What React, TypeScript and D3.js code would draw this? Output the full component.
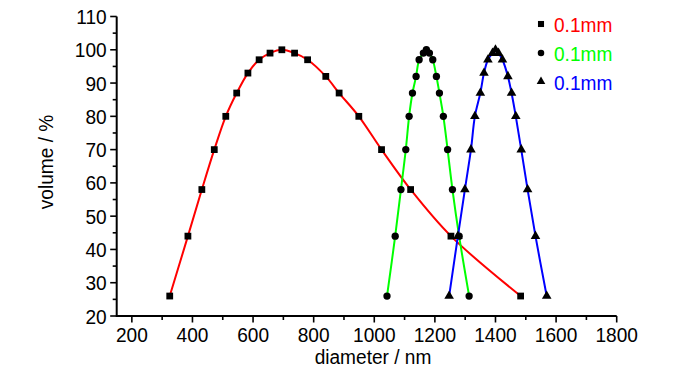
import React, { useEffect, useRef } from 'react';
import * as d3 from 'd3';

// diameter (nm) / volume (%)
const redX = [325, 385, 431, 472, 510, 546, 583, 620, 656, 695, 737, 780, 840, 884, 949, 1024, 1120, 1253, 1483];
const redY = [26, 44, 58, 70, 80, 87, 93, 97, 99, 100, 99, 97, 92, 87, 80, 70, 58, 44, 26];
const greenX = [1042, 1069, 1088, 1104, 1115, 1126, 1138, 1148, 1162, 1172, 1182, 1193, 1205, 1215, 1228, 1242, 1258, 1280, 1313];
const greenY = [26, 44, 58, 70, 80, 87, 92, 97, 99, 100, 99, 97, 92, 87, 80, 70, 58, 44, 26];
const blueX = [1247, 1276, 1299, 1319, 1332, 1350, 1362, 1375, 1390, 1400, 1410, 1423, 1441, 1453, 1467, 1485, 1506, 1532, 1569];
const blueY = [26, 44, 58, 70, 80, 87, 93, 97, 99, 100, 99, 97, 92, 87, 80, 70, 58, 44, 26];

const legendLabels = ['0.1mm', '0.1mm', '0.1mm'];
const seriesColors = ['#ff0000', '#00ff00', '#0000ff'];
const xTicks = [200, 400, 600, 800, 1000, 1200, 1400, 1600, 1800];
const yTicks = [20, 30, 40, 50, 60, 70, 80, 90, 100, 110];

const W = 700;
const H = 374;
const FONT = 'Arial, "Liberation Sans", sans-serif';
// text in the original is a bit taller than it is wide
const SQUEEZE = 0.91;

type Pt = [number, number];

const App: React.FC = () => {
  const svgRef = useRef<SVGSVGElement | null>(null);

  useEffect(() => {
    if (!svgRef.current) return;
    const svg = d3.select(svgRef.current);
    svg.selectAll('*').remove();

    const x = d3.scaleLinear().domain([150, 1800]).range([116.7, 616.7]);
    const y = d3.scaleLinear().domain([20, 110]).range([316, 16.5]);

    const label = (tx: number, ty: number, txt: string, size: number, anchor: string, fill = '#000', rot = 0) =>
      svg.append('text')
        .attr('transform', `translate(${tx},${ty}) rotate(${rot}) scale(${SQUEEZE},1)`)
        .attr('text-anchor', anchor)
        .attr('fill', fill)
        .style('font-family', FONT).style('font-size', `${size}px`)
        .text(txt);

    // axes - left and bottom only, ticks outward
    const xMinor = d3.range(200, 1801, 100);
    const yMinor = d3.range(20, 111, 5);

    const axes = svg.append('g').attr('stroke', '#000');
    axes.append('line')
      .attr('x1', x(150)).attr('x2', x(1800))
      .attr('y1', y(20)).attr('y2', y(20))
      .attr('stroke-width', 2);
    axes.append('line')
      .attr('x1', x(150)).attr('x2', x(150))
      .attr('y1', y(20) + 1).attr('y2', y(110))
      .attr('stroke-width', 2);

    axes.selectAll('.xt').data(xMinor).enter().append('line')
      .attr('x1', d => x(d)).attr('x2', d => x(d))
      .attr('y1', y(20)).attr('y2', d => y(20) + (d % 200 === 0 ? 6.5 : 4))
      .attr('stroke-width', 1.6);
    axes.selectAll('.yt').data(yMinor).enter().append('line')
      .attr('y1', d => y(d)).attr('y2', d => y(d))
      .attr('x1', x(150)).attr('x2', d => x(150) - (d % 10 === 0 ? 6.5 : 4))
      .attr('stroke-width', 1.6);

    xTicks.forEach(t => label(x(t), y(20) + 26, String(t), 21, 'middle'));
    yTicks.forEach(t => label(x(150) - 10, y(t) + 7.5, String(t), 21, 'end'));

    label(373, 364, 'diameter / nm', 21, 'middle');
    label(53, 162, 'volume / %', 21, 'middle', '#000', -90);

    const series: { pts: Pt[]; color: string; shape: d3.SymbolType; size: number }[] = [
      { pts: redX.map((v, i) => [v, redY[i]] as Pt), color: seriesColors[0], shape: d3.symbolSquare, size: 46 },
      { pts: greenX.map((v, i) => [v, greenY[i]] as Pt), color: seriesColors[1], shape: d3.symbolCircle, size: 42 },
      { pts: blueX.map((v, i) => [v, blueY[i]] as Pt), color: seriesColors[2], shape: d3.symbolTriangle, size: 40 },
    ];

    const line = d3.line<Pt>()
      .x(d => x(d[0])).y(d => y(d[1]))
      .curve(d3.curveCatmullRom.alpha(0.5));

    series.forEach(s => {
      svg.append('path')
        .attr('d', line(s.pts))
        .attr('fill', 'none')
        .attr('stroke', s.color)
        .attr('stroke-width', 2);
      svg.selectAll(null).data(s.pts).enter().append('path')
        .attr('d', d3.symbol().type(s.shape).size(s.size)())
        .attr('transform', d => `translate(${x(d[0])},${y(d[1])})`)
        .attr('fill', '#000');
    });

    // legend top right
    const legendY = [24, 53, 81.5];
    series.forEach((s, i) => {
      svg.append('path')
        .attr('d', d3.symbol().type(s.shape).size(s.size * 0.8)())
        .attr('transform', `translate(541,${legendY[i]})`)
        .attr('fill', '#000');
      label(554, legendY[i] + 8, legendLabels[i], 21, 'start', s.color);
    });
  }, []);

  return (
    <svg ref={svgRef} width={W} height={H}
      style={{ position: 'absolute', left: 0, top: 0, background: '#fff' }} />
  );
};

export default App;
